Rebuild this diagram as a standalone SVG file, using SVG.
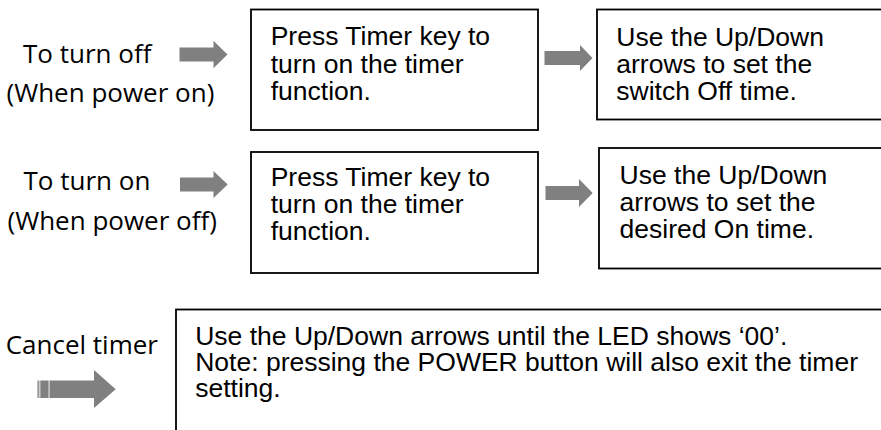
<svg xmlns="http://www.w3.org/2000/svg" width="881" height="430" viewBox="0 0 881 430">
<style>
.box{fill:#fff;stroke:#000;stroke-width:1.8}
.bt{font-family:"Liberation Sans",Arial,sans-serif;font-size:26.5px;fill:#000}
.lb{font-family:"Open Sans",sans-serif;font-size:26px;fill:#000}
.ar{fill:#808080}
.st{fill:#9a9a9a}
</style>
<rect width="881" height="430" fill="#fff"/>
<g id="label-off">
<text class="lb" x="23" y="62.7">To turn off</text>
<text class="lb" x="6.5" y="101.5">(When power on)</text>
</g>
<g id="label-on">
<text class="lb" x="23.5" y="190">To turn on</text>
<text class="lb" x="7.5" y="230">(When power off)</text>
</g>
<g id="label-cancel">
<text class="lb" x="5.7" y="353.5">Cancel timer</text>
</g>
<g id="box-off-1">
<rect class="box" x="251" y="9.5" width="287" height="120.5"/>
<text class="bt" x="270.7" y="45">Press Timer key to</text>
<text class="bt" x="270.7" y="72.7">turn on the timer</text>
<text class="bt" x="270.7" y="100.2">function.</text>
</g>
<g id="box-off-2">
<rect class="box" x="597" y="9.5" width="300" height="110"/>
<text class="bt" x="616.3" y="45.5">Use the Up/Down</text>
<text class="bt" x="616.3" y="72.9">arrows to set the</text>
<text class="bt" x="616.3" y="100.2">switch Off time.</text>
</g>
<g id="box-on-1">
<rect class="box" x="251" y="152" width="287" height="121"/>
<text class="bt" x="270.7" y="186">Press Timer key to</text>
<text class="bt" x="270.7" y="213">turn on the timer</text>
<text class="bt" x="270.7" y="240.2">function.</text>
</g>
<g id="box-on-2">
<rect class="box" x="599" y="148" width="300" height="120.5"/>
<text class="bt" x="619.6" y="183.5">Use the Up/Down</text>
<text class="bt" x="619.6" y="211">arrows to set the</text>
<text class="bt" x="619.6" y="238.3">desired On time.</text>
</g>
<g id="box-cancel">
<rect class="box" x="176" y="309.5" width="720" height="140"/>
<text class="bt" x="195.2" y="344.8">Use the Up/Down arrows until the LED shows ‘00’.</text>
<text class="bt" x="195.2" y="371">Note: pressing the POWER button will also exit the timer</text>
<text class="bt" x="195.2" y="397.3">setting.</text>
</g>
<g id="connectors">
<polygon class="ar" points="179.5,47.5 213.5,47.5 213.5,40.7 227.5,54.5 213.5,68.3 213.5,61.5 179.5,61.5"/>
<polygon class="ar" points="544.5,51 580,51 580,45 592.5,58 580,71 580,65 544.5,65"/>
<polygon class="ar" points="180,177.5 213.5,177.5 213.5,171 227.7,184.5 213.5,198 213.5,191.5 180,191.5"/>
<polygon class="ar" points="545.5,186 579,186 579,179 592.7,193 579,207 579,200 545.5,200"/>
<g id="cancel-arrow">
<rect class="st" x="37.3" y="380.5" width="2.2" height="17.5"/>
<rect class="ar" x="40.3" y="380.5" width="8.3" height="17.5"/>
<polygon class="ar" points="49.5,380.5 94,380.5 94,370 115.7,389.2 94,408 94,398 49.5,398"/>
</g>
</g>
</svg>
